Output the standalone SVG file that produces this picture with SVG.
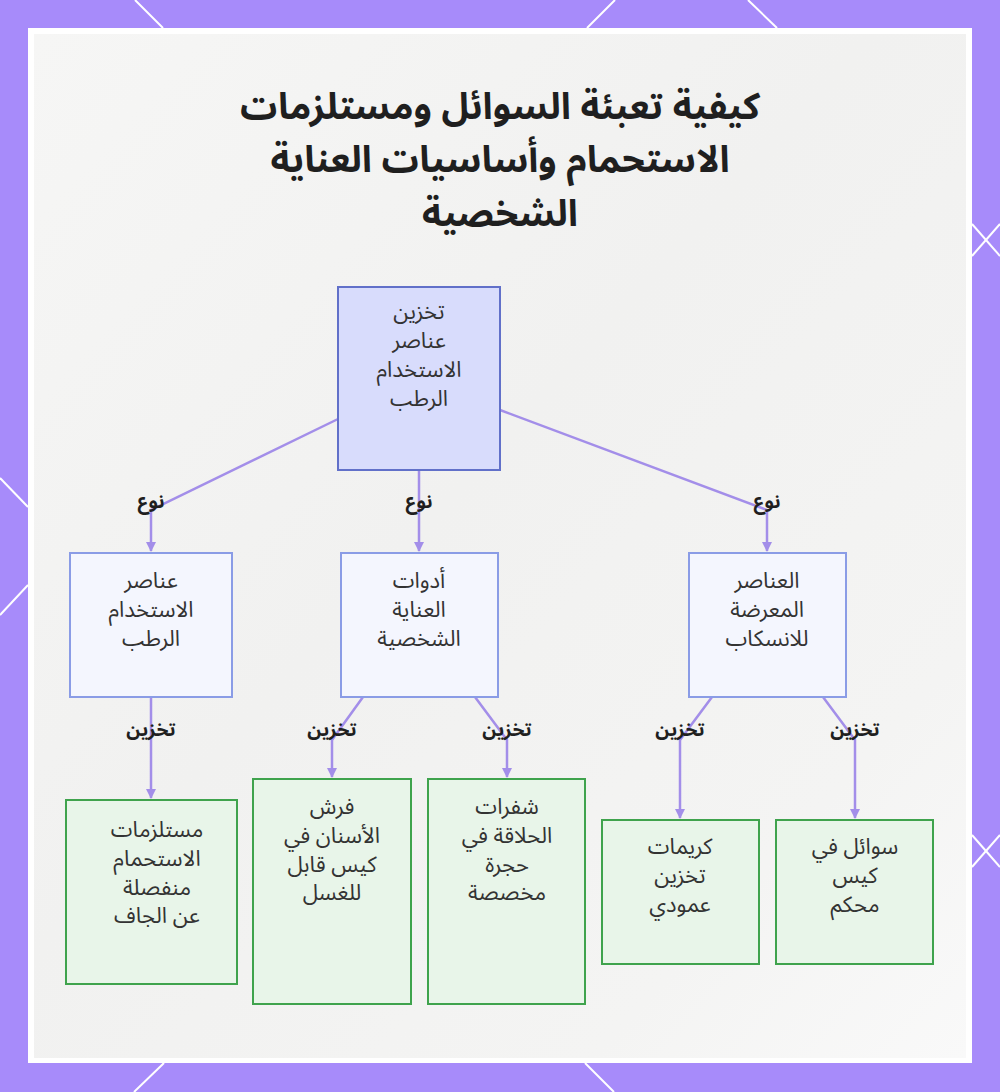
<svg xmlns="http://www.w3.org/2000/svg" width="1000" height="1092" viewBox="0 0 1000 1092">
<style>
.title{font-family:"Noto Sans Arabic","Noto Sans","DejaVu Sans",sans-serif;font-size:37px;font-weight:bold;fill:#1f1f1f;text-anchor:middle}
.nt{font-family:"Noto Sans Arabic","Noto Sans","DejaVu Sans",sans-serif;font-size:22px;fill:#333333;text-anchor:middle}
.el{font-family:"Noto Sans Arabic","Noto Sans","DejaVu Sans",sans-serif;font-size:19px;font-weight:bold;fill:#1f1f1f;text-anchor:middle}
.root{fill:#d8dcfc;stroke:#6170c9;stroke-width:2}
.mid{fill:#f4f6fe;stroke:#8a9ce6;stroke-width:2}
.leaf{fill:#e8f5e9;stroke:#3fa34d;stroke-width:2}
.edge{fill:none;stroke:#a38ee9;stroke-width:2.5}
.deco{stroke:#ffffff;stroke-width:2;fill:none}
</style>
<defs>
<marker id="arr" viewBox="0 0 10 10" refX="9" refY="5" markerWidth="4" markerHeight="4" orient="auto">
<path d="M0,0 L10,5 L0,10 z" fill="#a38ee9"/>
</marker>
<linearGradient id="bg" x1="0" y1="0" x2="1" y2="1">
<stop offset="0" stop-color="#f6f6f5"/>
<stop offset="0.45" stop-color="#f1f1f0"/>
<stop offset="0.8" stop-color="#f4f4f3"/>
<stop offset="1" stop-color="#f9f9f9"/>
</linearGradient>
</defs>
<rect x="0" y="0" width="1000" height="1092" fill="#a78bfa"/>
<g class="deco">
<line x1="135" y1="0" x2="163" y2="28"/>
<line x1="615" y1="0" x2="587" y2="28"/>
<line x1="748" y1="0" x2="777" y2="28"/>
<line x1="972" y1="224" x2="1000" y2="256"/>
<line x1="972" y1="256" x2="1000" y2="224"/>
<line x1="972" y1="835" x2="1000" y2="867"/>
<line x1="972" y1="867" x2="1000" y2="835"/>
<line x1="0" y1="478" x2="28" y2="507"/>
<line x1="28" y1="585" x2="0" y2="615"/>
<line x1="164" y1="1063" x2="134" y2="1092"/>
<line x1="585" y1="1063" x2="614" y2="1092"/>
</g>
<rect x="28" y="28" width="944" height="1035" fill="#ffffff"/>
<rect x="34" y="34" width="932" height="1024" fill="url(#bg)"/>

<g id="title">
<text class="title"><tspan x="500" y="119">كيفية تعبئة السوائل ومستلزمات</tspan><tspan x="500" y="172">الاستحمام وأساسيات العناية</tspan><tspan x="500" y="226">الشخصية</tspan></text>
</g>

<g id="connectors">
<path class="edge" d="M338,419 L151,510 L151,551" marker-end="url(#arr)"/>
<path class="edge" d="M419,470 L419,551" marker-end="url(#arr)"/>
<path class="edge" d="M500,410 L767,510 L767,551" marker-end="url(#arr)"/>
<path class="edge" d="M151,697 L151,798" marker-end="url(#arr)"/>
<path class="edge" d="M363,697 L332,740 L332,777" marker-end="url(#arr)"/>
<path class="edge" d="M475,697 L507,740 L507,777" marker-end="url(#arr)"/>
<path class="edge" d="M712,697 L680,740 L680,818" marker-end="url(#arr)"/>
<path class="edge" d="M823,697 L855,740 L855,818" marker-end="url(#arr)"/>
<text class="el" x="151" y="508">نوع</text>
<text class="el" x="419" y="508">نوع</text>
<text class="el" x="767" y="508">نوع</text>
<text class="el" x="151" y="736">تخزين</text>
<text class="el" x="332" y="736">تخزين</text>
<text class="el" x="507" y="736">تخزين</text>
<text class="el" x="680" y="736">تخزين</text>
<text class="el" x="855" y="736">تخزين</text>
</g>

<g id="n-root">
<rect class="root" x="338" y="287" width="162" height="183"/>
<text class="nt"><tspan x="419" y="319">تخزين</tspan><tspan x="419" y="348">عناصر</tspan><tspan x="419" y="377">الاستخدام</tspan><tspan x="419" y="406">الرطب</tspan></text>
</g>

<g id="n-wet">
<rect class="mid" x="70" y="553" width="162" height="144"/>
<text class="nt"><tspan x="151" y="588">عناصر</tspan><tspan x="151" y="617">الاستخدام</tspan><tspan x="151" y="646">الرطب</tspan></text>
</g>

<g id="n-care">
<rect class="mid" x="341" y="553" width="157" height="144"/>
<text class="nt"><tspan x="419" y="588">أدوات</tspan><tspan x="419" y="617">العناية</tspan><tspan x="419" y="646">الشخصية</tspan></text>
</g>

<g id="n-spill">
<rect class="mid" x="689" y="553" width="157" height="144"/>
<text class="nt"><tspan x="767" y="588">العناصر</tspan><tspan x="767" y="617">المعرضة</tspan><tspan x="767" y="646">للانسكاب</tspan></text>
</g>

<g id="n-bath">
<rect class="leaf" x="66" y="800" width="171" height="184"/>
<text class="nt"><tspan x="157" y="837">مستلزمات</tspan><tspan x="157" y="866">الاستحمام</tspan><tspan x="157" y="895">منفصلة</tspan><tspan x="157" y="923">عن الجاف</tspan></text>
</g>

<g id="n-brush">
<rect class="leaf" x="253" y="779" width="158" height="225"/>
<text class="nt"><tspan x="332" y="814">فرش</tspan><tspan x="332" y="843">الأسنان في</tspan><tspan x="332" y="872">كيس قابل</tspan><tspan x="332" y="900">للغسل</tspan></text>
</g>

<g id="n-razor">
<rect class="leaf" x="428" y="779" width="157" height="225"/>
<text class="nt"><tspan x="507" y="814">شفرات</tspan><tspan x="507" y="843">الحلاقة في</tspan><tspan x="507" y="872">حجرة</tspan><tspan x="507" y="900">مخصصة</tspan></text>
</g>

<g id="n-cream">
<rect class="leaf" x="602" y="820" width="157" height="144"/>
<text class="nt"><tspan x="680" y="854">كريمات</tspan><tspan x="680" y="883">تخزين</tspan><tspan x="680" y="912">عمودي</tspan></text>
</g>

<g id="n-liquid">
<rect class="leaf" x="776" y="820" width="157" height="144"/>
<text class="nt"><tspan x="855" y="854">سوائل في</tspan><tspan x="855" y="883">كيس</tspan><tspan x="855" y="912">محكم</tspan></text>
</g>
</svg>
